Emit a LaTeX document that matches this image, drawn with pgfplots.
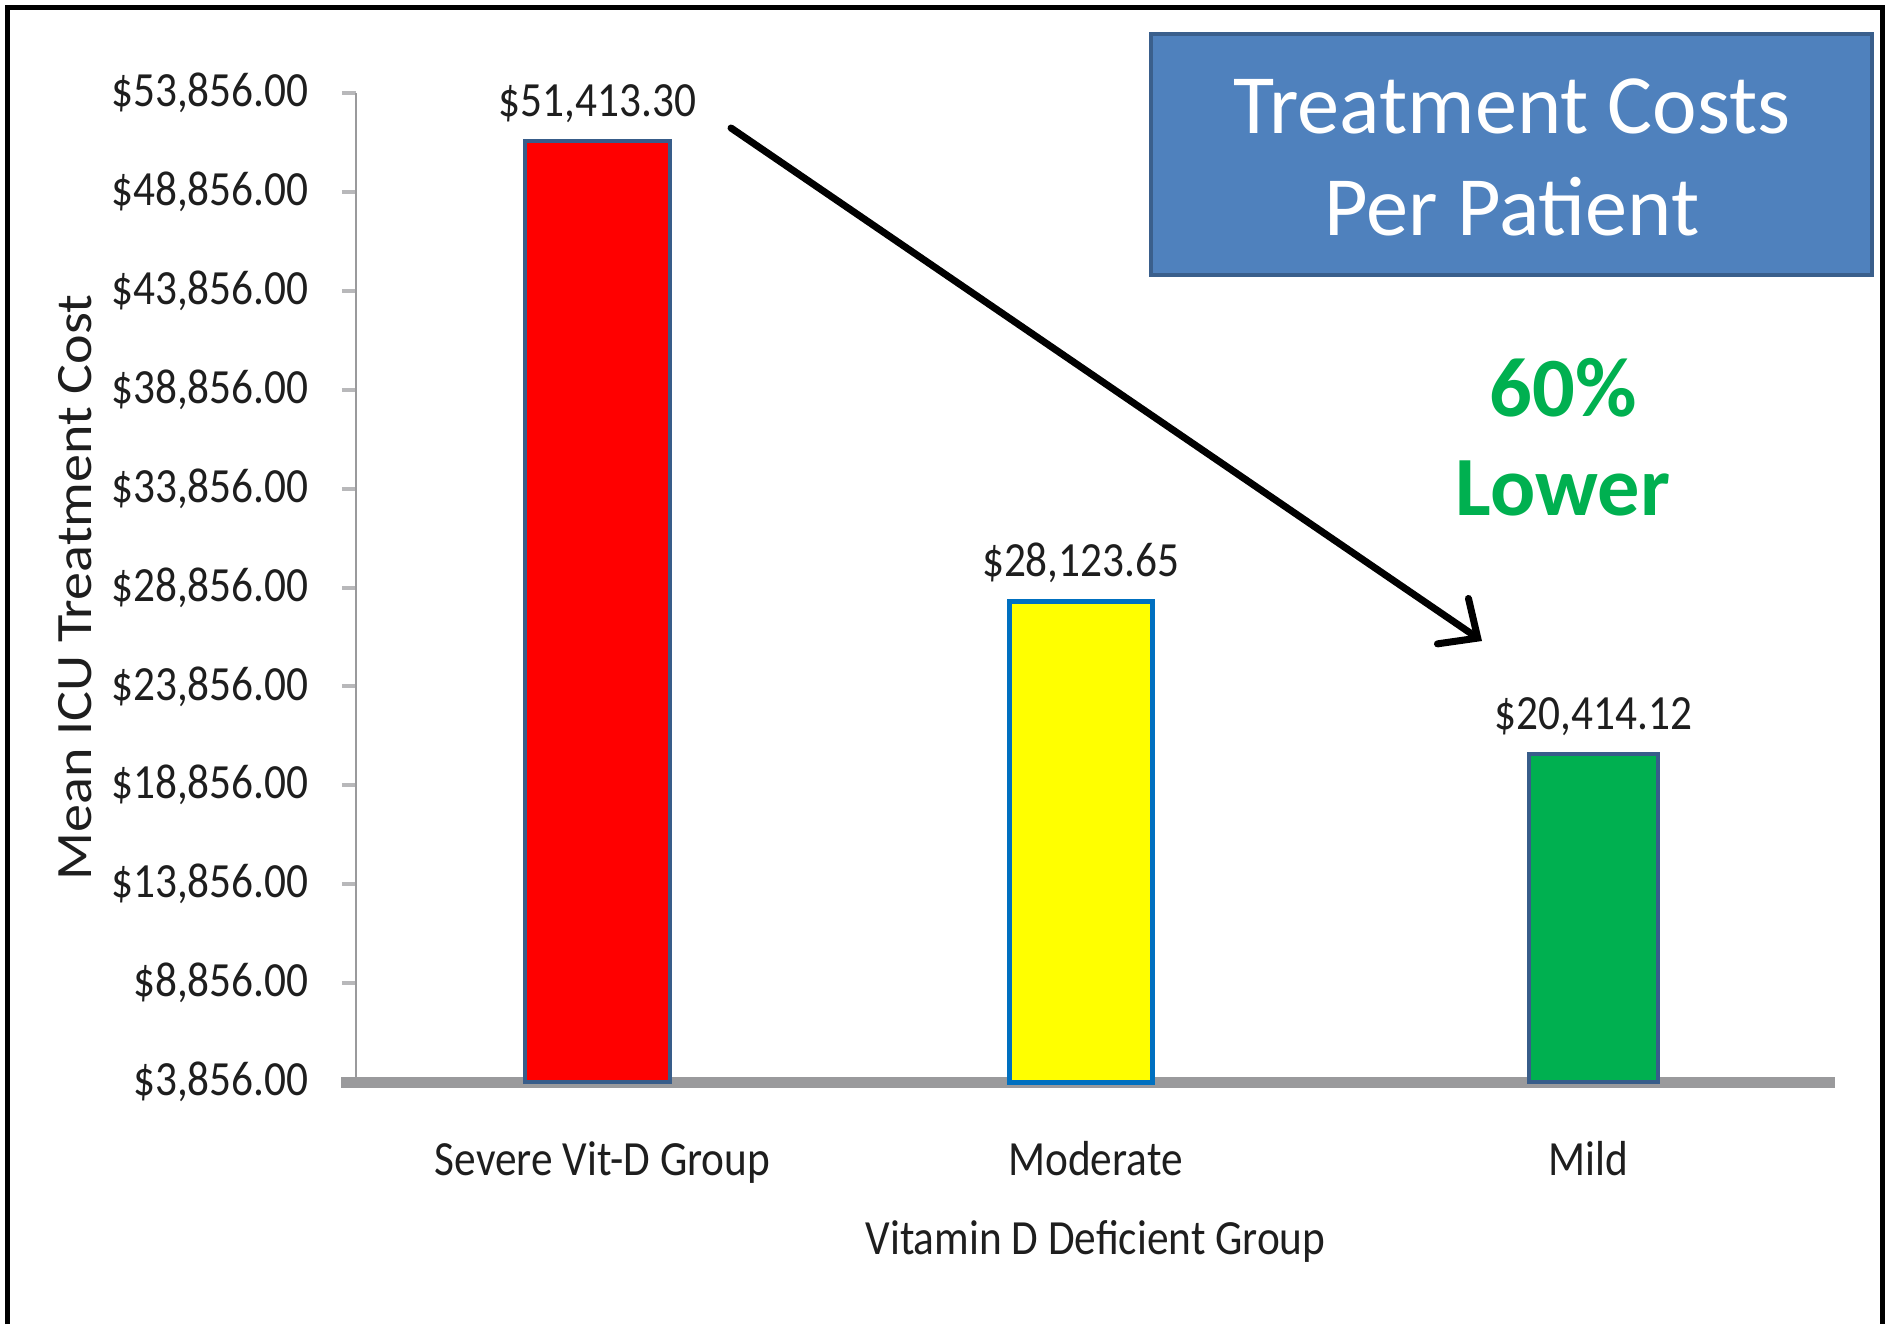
\documentclass[border=0pt]{standalone}
\usepackage{fontspec}
\setmainfont{Carlito}
\newfontfamily\condfont[FakeStretch=0.88]{Carlito}
\newfontfamily\ylabfont[FakeStretch=1.1]{Carlito}
\usepackage{pgfplots}
\pgfplotsset{compat=1.18}
\usetikzlibrary{arrows.meta}
\definecolor{barred}{HTML}{FF0000}
\definecolor{baryellow}{HTML}{FFFF00}
\definecolor{bargreen}{HTML}{00B050}
\definecolor{barblue}{HTML}{385D8A}
\definecolor{yelborder}{HTML}{0070C0}
\definecolor{axisgray}{HTML}{9A9A9C}
\definecolor{labelblack}{HTML}{1E1E1E}
\definecolor{titleblue}{HTML}{4F81BD}
\definecolor{titleborder}{HTML}{3A5F8C}
\begin{document}
\begin{tikzpicture}
\useasboundingbox (0,0) rectangle (189mm,132.4mm);
\begin{axis}[
  at={(35.6mm,24.2mm)}, anchor=south west,
  scale only axis, width=147.9mm, height=98.9mm,
  xmin=-0.5, xmax=2.5, ymin=3856, ymax=53856,
  clip=false,
  scaled y ticks=false,
  axis lines*=left,
  x axis line style={draw=none},
  y axis line style={draw=axisgray, line width=0.25mm},
  tick align=outside,
  major tick length=1.4mm,
  xtick={0,1,2},
  xticklabels={Severe Vit-D Group, Moderate, Mild},
  xtick style={draw=none},
  ytick={3856,8856,13856,18856,23856,28856,33856,38856,43856,48856,53856},
  yticklabels={{\$3,856.00},{\$8,856.00},{\$13,856.00},{\$18,856.00},{\$23,856.00},{\$28,856.00},{\$33,856.00},{\$38,856.00},{\$43,856.00},{\$48,856.00},{\$53,856.00}},
  ytick style={draw=axisgray!70, line width=0.4mm},
  ticklabel style={font=\condfont\fontsize{14}{16}\selectfont, text=labelblack},
  yticklabel style={xshift=-2.1mm},
  xticklabel style={yshift=-3.3mm},
  xlabel={Vitamin D Deficient Group},
  xlabel style={at={(axis description cs:0.5,-0.161)}, anchor=center, font=\condfont\fontsize{14}{16}\selectfont, text=labelblack},
  ylabel={Mean ICU Treatment Cost},
  ylabel style={at={(axis description cs:-0.19,0.5)}, anchor=center, font=\ylabfont\fontsize{14.5}{17}\selectfont, text=labelblack},
  every node near coord/.append style={font=\condfont\fontsize{14}{16}\selectfont, text=labelblack, yshift=0.5mm},
]
\draw[line width=1.1mm, draw=axisgray] (rel axis cs:-0.01,0) -- (rel axis cs:1,0);
\addplot[ybar, bar width=0.293, bar shift=0pt, fill=barred, draw=barblue, line width=0.4mm,
  nodes near coords={\$51,413.30}] coordinates {(-0.01,51413.30)};
\addplot[ybar, bar width=0.29, bar shift=0pt, fill=baryellow, draw=yelborder, line width=0.5mm,
  nodes near coords={\$28,123.65}] coordinates {(0.97,28123.65)};
\addplot[ybar, bar width=0.263, bar shift=0pt, fill=bargreen, draw=barblue, line width=0.4mm,
  nodes near coords={\$20,414.12}] coordinates {(2.01,20414.12)};
\end{axis}
% title box
\filldraw[fill=titleblue, draw=titleborder, line width=0.35mm] (115.1mm,104.9mm) rectangle (187.2mm,129.0mm);
\node[text=white, font=\fontsize{24}{29}\selectfont] at (151.2mm,121.8mm) {Treatment Costs};
\node[text=white, font=\fontsize{24}{29}\selectfont] at (151.2mm,111.7mm) {Per Patient};
% arrow
\draw[line width=0.7mm, line cap=round, -{Straight Barb[length=3mm, width=5.5mm, line cap=round]}] (73.1mm,119.6mm) -- (148.2mm,68.3mm);
% annotation
\node[text=bargreen, font=\bfseries\fontsize{24}{29}\selectfont] at (156.3mm,93.6mm) {60\%};
\node[text=bargreen, font=\bfseries\fontsize{24}{29}\selectfont] at (156.3mm,83.6mm) {Lower};
% frame
\draw[line width=0.5mm] (0.75mm,0) -- (0.75mm,131.65mm) -- (188.2mm,131.65mm) -- (188.2mm,0);
\end{tikzpicture}
\end{document}
